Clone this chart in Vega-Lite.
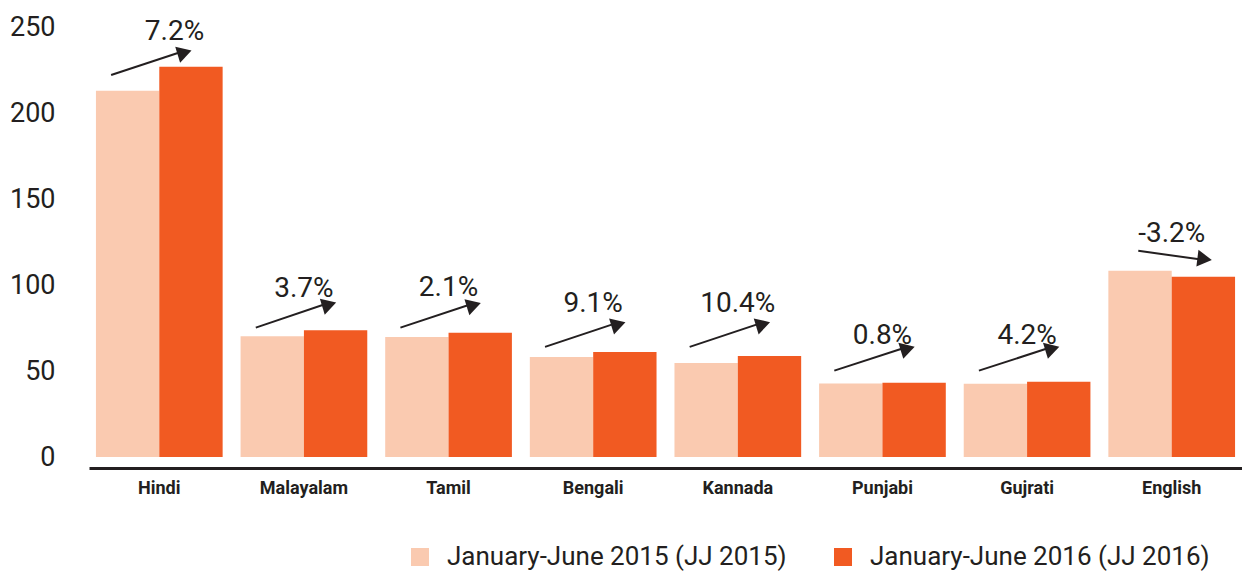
{
  "$schema": "https://vega.github.io/schema/vega-lite/v6.json",
  "width": 1153,
  "height": 430,
  "autosize": {"type": "none"},
  "padding": {"left": 89, "top": 27, "right": 0, "bottom": 119},
  "background": "white",
  "config": {
    "view": {"stroke": null},
    "font": "Roboto, Liberation Sans, sans-serif"
  },
  "datasets": {
    "bars": [
      {"language": "Hindi", "period": "January-June 2015 (JJ 2015)", "value": 213.0},
      {"language": "Hindi", "period": "January-June 2016 (JJ 2016)", "value": 226.9},
      {"language": "Malayalam", "period": "January-June 2015 (JJ 2015)", "value": 70.2},
      {"language": "Malayalam", "period": "January-June 2016 (JJ 2016)", "value": 73.7},
      {"language": "Tamil", "period": "January-June 2015 (JJ 2015)", "value": 69.8},
      {"language": "Tamil", "period": "January-June 2016 (JJ 2016)", "value": 72.3},
      {"language": "Bengali", "period": "January-June 2015 (JJ 2015)", "value": 58.1},
      {"language": "Bengali", "period": "January-June 2016 (JJ 2016)", "value": 61.0},
      {"language": "Kannada", "period": "January-June 2015 (JJ 2015)", "value": 54.7},
      {"language": "Kannada", "period": "January-June 2016 (JJ 2016)", "value": 58.7},
      {"language": "Punjabi", "period": "January-June 2015 (JJ 2015)", "value": 42.8},
      {"language": "Punjabi", "period": "January-June 2016 (JJ 2016)", "value": 43.2},
      {"language": "Gujrati", "period": "January-June 2015 (JJ 2015)", "value": 42.6},
      {"language": "Gujrati", "period": "January-June 2016 (JJ 2016)", "value": 43.8},
      {"language": "English", "period": "January-June 2015 (JJ 2015)", "value": 108.3},
      {"language": "English", "period": "January-June 2016 (JJ 2016)", "value": 104.8}
    ],
    "notes": [
      {"language": "Hindi", "start": 222.1, "end": 236.2, "label": "7.2%", "ty": 247.3},
      {"language": "Malayalam", "start": 75.2, "end": 89.7, "label": "3.7%", "ty": 97.7},
      {"language": "Tamil", "start": 75.2, "end": 89.4, "label": "2.1%", "ty": 98.1},
      {"language": "Bengali", "start": 64.0, "end": 78.3, "label": "9.1%", "ty": 89.1},
      {"language": "Kannada", "start": 64.0, "end": 78.3, "label": "10.4%", "ty": 89.1},
      {"language": "Punjabi", "start": 50.2, "end": 64.1, "label": "0.8%", "ty": 70.2},
      {"language": "Gujrati", "start": 50.2, "end": 64.1, "label": "4.2%", "ty": 70.2},
      {"language": "English", "start": 119.9, "end": 114.5, "label": "-3.2%", "ty": 129.9}
    ]
  },
  "layer": [
    {
      "data": {"name": "bars"},
      "mark": {"type": "bar"},
      "encoding": {
        "x": {
          "field": "language", "type": "nominal",
          "sort": ["Hindi", "Malayalam", "Tamil", "Bengali", "Kannada", "Punjabi", "Gujrati", "English"],
          "scale": {"domain": ["Hindi", "Malayalam", "Tamil", "Bengali", "Kannada", "Punjabi", "Gujrati", "English"], "paddingInner": 0.124, "paddingOuter": 0.048},
          "title": null,
          "axis": {
            "orient": "bottom", "offset": 11, "domainColor": "#231f20", "domainWidth": 3,
            "ticks": false, "labelAngle": 0, "labelFontSize": 18, "labelFontWeight": "bold",
            "labelColor": "#231f20", "labelPadding": 11
          }
        },
        "xOffset": {
          "field": "period", "type": "nominal",
          "sort": ["January-June 2015 (JJ 2015)", "January-June 2016 (JJ 2016)"],
          "scale": {"paddingInner": 0, "paddingOuter": 0}
        },
        "y": {
          "field": "value", "type": "quantitative",
          "scale": {"domain": [0, 250], "nice": false},
          "title": null,
          "axis": {
            "values": [0, 50, 100, 150, 200, 250], "domain": false, "ticks": false, "grid": false,
            "labelFontSize": 27, "labelPadding": 34, "labelColor": "#231f20"
          }
        },
        "color": {
          "field": "period", "type": "nominal",
          "scale": {"domain": ["January-June 2015 (JJ 2015)", "January-June 2016 (JJ 2016)"], "range": ["#FACAB0", "#F15A22"]},
          "legend": {
            "orient": "none", "legendX": 318, "legendY": 517, "direction": "horizontal", "title": null,
            "symbolType": "square", "symbolSize": 324, "symbolStrokeWidth": 0, "labelFontSize": 26,
            "labelOffset": 14, "columnPadding": 43, "labelColor": "#231f20", "labelLimit": 0, "padding": 0
          }
        }
      }
    },
    {
      "data": {"name": "notes"},
      "transform": [{"filter": "datum.language != 'English'"}],
      "mark": {"type": "rule", "color": "#231f20", "strokeWidth": 2},
      "encoding": {
        "x": {"field": "language", "type": "nominal", "sort": ["Hindi", "Malayalam", "Tamil", "Bengali", "Kannada", "Punjabi", "Gujrati", "English"], "bandPosition": 0.12},
        "x2": {"field": "language", "bandPosition": 0.7},
        "y": {"field": "start", "type": "quantitative"},
        "y2": {"field": "end"}
      }
    },
    {
      "data": {"name": "notes"},
      "transform": [{"filter": "datum.language != 'English'"}],
      "mark": {"type": "point", "shape": "triangle-right", "filled": true, "opacity": 1, "color": "#231f20", "size": 280, "angle": -17, "xOffset": -7, "yOffset": 2},
      "encoding": {
        "x": {"field": "language", "type": "nominal", "sort": ["Hindi", "Malayalam", "Tamil", "Bengali", "Kannada", "Punjabi", "Gujrati", "English"], "bandPosition": 0.755},
        "y": {"field": "end", "type": "quantitative"}
      }
    },
    {
      "data": {"name": "notes"},
      "transform": [{"filter": "datum.language == 'English'"}],
      "mark": {"type": "rule", "color": "#231f20", "strokeWidth": 2},
      "encoding": {
        "x": {"field": "language", "type": "nominal", "sort": ["Hindi", "Malayalam", "Tamil", "Bengali", "Kannada", "Punjabi", "Gujrati", "English"], "bandPosition": 0.236},
        "x2": {"field": "language", "bandPosition": 0.76},
        "y": {"field": "start", "type": "quantitative"},
        "y2": {"field": "end"}
      }
    },
    {
      "data": {"name": "notes"},
      "transform": [{"filter": "datum.language == 'English'"}],
      "mark": {"type": "point", "shape": "triangle-right", "filled": true, "opacity": 1, "color": "#231f20", "size": 280, "angle": 7, "xOffset": -7, "yOffset": -1},
      "encoding": {
        "x": {"field": "language", "type": "nominal", "sort": ["Hindi", "Malayalam", "Tamil", "Bengali", "Kannada", "Punjabi", "Gujrati", "English"], "bandPosition": 0.815},
        "y": {"field": "end", "type": "quantitative"}
      }
    },
    {
      "data": {"name": "notes"},
      "transform": [{"filter": "datum.language != 'Hindi'"}],
      "mark": {"type": "text", "fontSize": 28, "color": "#231f20", "baseline": "middle", "align": "center"},
      "encoding": {
        "x": {"field": "language", "type": "nominal", "sort": ["Hindi", "Malayalam", "Tamil", "Bengali", "Kannada", "Punjabi", "Gujrati", "English"], "bandPosition": 0.5},
        "y": {"field": "ty", "type": "quantitative"},
        "text": {"field": "label"}
      }
    },
    {
      "data": {"name": "notes"},
      "transform": [{"filter": "datum.language == 'Hindi'"}],
      "mark": {"type": "text", "fontSize": 28, "color": "#231f20", "baseline": "middle", "align": "center"},
      "encoding": {
        "x": {"field": "language", "type": "nominal", "sort": ["Hindi", "Malayalam", "Tamil", "Bengali", "Kannada", "Punjabi", "Gujrati", "English"], "bandPosition": 0.62},
        "y": {"field": "ty", "type": "quantitative"},
        "text": {"field": "label"}
      }
    }
  ]
}
